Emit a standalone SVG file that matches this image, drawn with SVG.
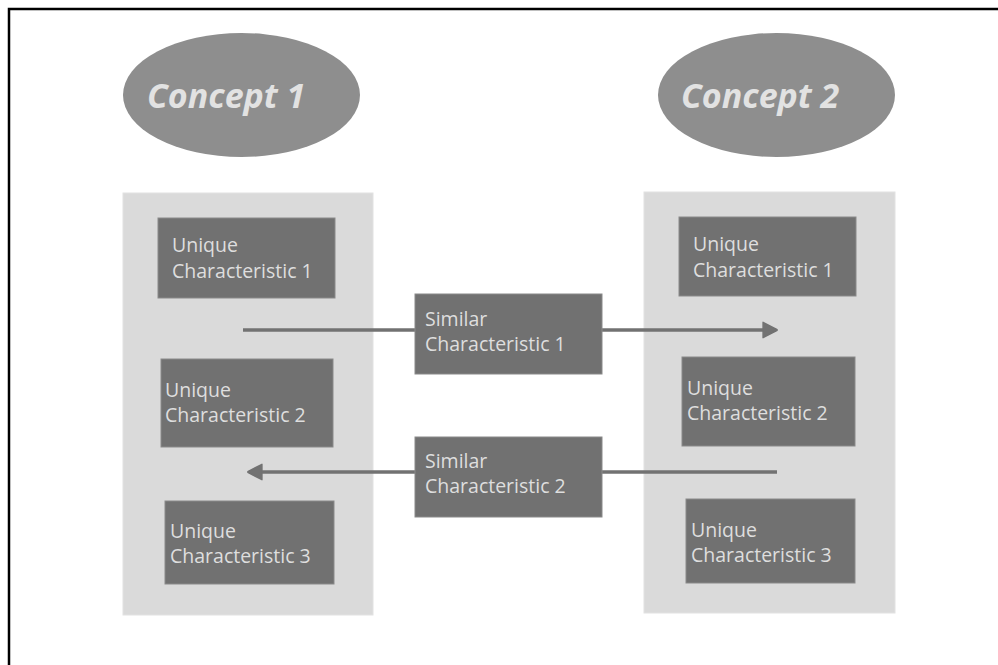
<svg xmlns="http://www.w3.org/2000/svg" width="998" height="665" viewBox="0 0 998 665">
<style>
.concept{fill:#8e8e8e}
.ctext{font-family:"Open Sans","Noto Sans",sans-serif;font-weight:bold;font-style:italic;font-size:34px;fill:#e2e2e2}
.panel{fill:#dadada;stroke:#e2e2e2;stroke-width:1}
.box{fill:#717171;stroke:#8a8a8a;stroke-width:1}
.t{font-family:"Open Sans","Noto Sans",sans-serif;font-size:19.5px;fill:#dedede}
.conn{stroke:#727272;stroke-width:3.5;fill:none}
</style>
<defs>
<marker id="ah" markerWidth="5" markerHeight="5" refX="4" refY="2.5" orient="auto" markerUnits="strokeWidth">
<path d="M0.3,0.3 L4.2,2.3 Q4.5,2.5 4.2,2.7 L0.3,4.7 Z" fill="#727272" stroke="#727272" stroke-width="0.4" stroke-linejoin="round"/>
</marker>
</defs>
<rect x="0" y="0" width="998" height="665" fill="#ffffff"/>
<path d="M9,665 V9 H998" fill="none" stroke="#000000" stroke-width="2.5"/>

<g id="concept1">
<ellipse class="concept" cx="241.5" cy="95" rx="118.5" ry="62"/>
<text class="ctext" x="147" y="108">Concept 1</text>
</g>
<g id="concept2">
<ellipse class="concept" cx="776.5" cy="95" rx="118.5" ry="62"/>
<text class="ctext" x="681" y="108">Concept 2</text>
</g>

<g id="panel-left"><rect class="panel" x="123" y="193" width="250" height="422"/></g>
<g id="panel-right"><rect class="panel" x="644" y="192" width="251" height="421"/></g>

<g id="left-unique1">
<rect class="box" x="158" y="218" width="177" height="80"/>
<text class="t" x="172" y="252">Unique</text>
<text class="t" x="172" y="278">Characteristic 1</text>
</g>
<g id="left-unique2">
<rect class="box" x="161" y="359" width="172" height="88"/>
<text class="t" x="165" y="397">Unique</text>
<text class="t" x="165" y="422">Characteristic 2</text>
</g>
<g id="left-unique3">
<rect class="box" x="165" y="501" width="169" height="83"/>
<text class="t" x="170" y="538">Unique</text>
<text class="t" x="170" y="563">Characteristic 3</text>
</g>

<g id="right-unique1">
<rect class="box" x="679" y="217" width="177" height="79"/>
<text class="t" x="693" y="251">Unique</text>
<text class="t" x="693" y="277">Characteristic 1</text>
</g>
<g id="right-unique2">
<rect class="box" x="682" y="357" width="173" height="89"/>
<text class="t" x="687" y="395">Unique</text>
<text class="t" x="687" y="420">Characteristic 2</text>
</g>
<g id="right-unique3">
<rect class="box" x="686" y="499" width="169" height="84"/>
<text class="t" x="691" y="537">Unique</text>
<text class="t" x="691" y="562">Characteristic 3</text>
</g>

<g id="connectors">
<line class="conn" x1="243" y1="330" x2="415" y2="330"/>
<line class="conn" x1="602" y1="330" x2="776" y2="330" marker-end="url(#ah)"/>
<line class="conn" x1="777" y1="472" x2="602" y2="472"/>
<line class="conn" x1="415" y1="472" x2="249" y2="472" marker-end="url(#ah)"/>
</g>

<g id="similar1">
<rect class="box" x="415" y="294" width="187" height="80"/>
<text class="t" x="425" y="326">Similar</text>
<text class="t" x="425" y="351">Characteristic 1</text>
</g>
<g id="similar2">
<rect class="box" x="415" y="437" width="187" height="80"/>
<text class="t" x="425" y="468">Similar</text>
<text class="t" x="425" y="493">Characteristic 2</text>
</g>
</svg>
